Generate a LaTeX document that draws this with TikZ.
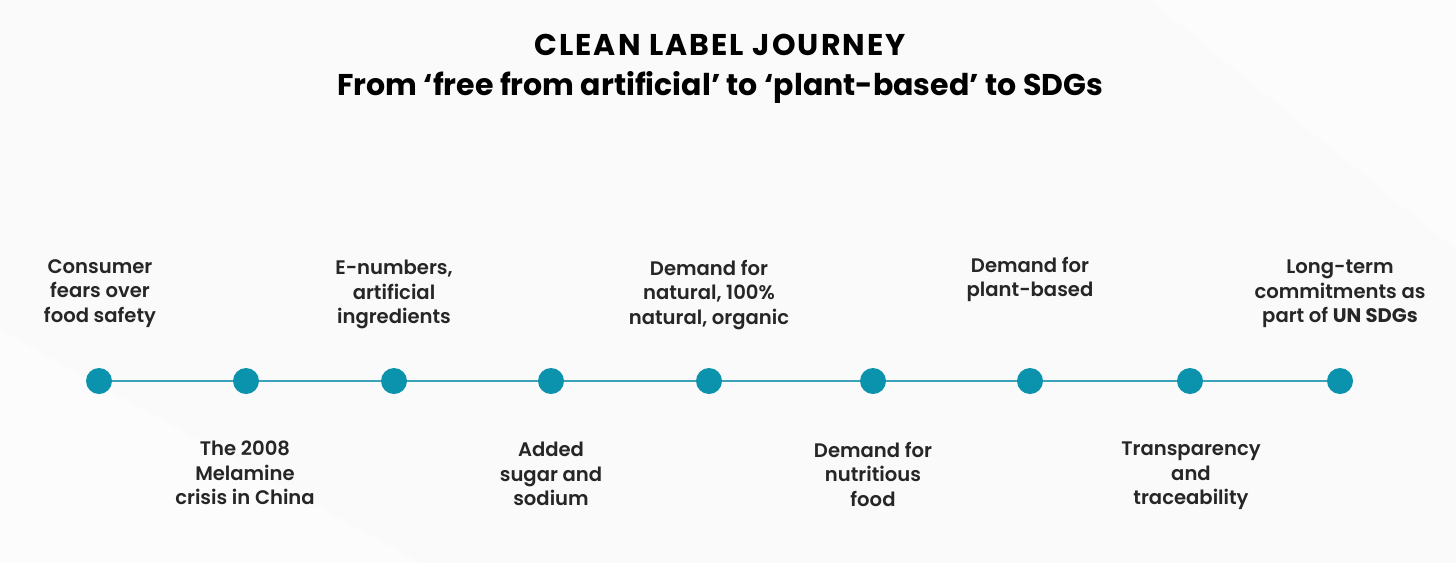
\documentclass[tikz,border=0pt]{standalone}
\usepackage{fontspec}
\setmainfont{Poppins}[UprightFont=* SemiBold, BoldFont=* Bold]
\definecolor{teal}{HTML}{0B93AD}
\definecolor{tline}{HTML}{3AA3B8}
\begin{document}
\begin{tikzpicture}[x=1pt,y=-1pt,
    dot/.style={circle,fill=teal,minimum size=26pt,inner sep=0pt},
    stage/.style={align=center,font=\fontsize{19.6}{24.5}\selectfont,text=black!85,inner sep=0pt}]
        \fill[gray!4] (0,0) rectangle (1456,563);
        \fill[white,opacity=.5] (0,563) -- (0,330) -- (420,563) -- cycle;
        \fill[white,opacity=.5] (1456,0) -- (1150,0) -- (1456,250) -- cycle;
        \useasboundingbox (0,0) rectangle (1456,563);
        \node[align=center,font=\fontsize{30}{40}\selectfont\bfseries] (title) at (720,69)
            {{\addfontfeature{LetterSpace=7}CLEAN LABEL JOURNEY}\\From ‘free from artificial’ to ‘plant-based’ to SDGs};
        \foreach \i/\x in {1/99,2/246,3/394,4/551,5/709,6/873,7/1030,8/1190,9/1340}
            \node[dot] (d\i) at (\x,381) {};
        \foreach \i/\j in {1/2,2/3,3/4,4/5,5/6,6/7,7/8,8/9}
            \draw[tline,line width=2pt] (d\i) -- (d\j);
        \node[stage,anchor=north] (s1) at (100,259) {Consumer\\fears over\\food safety};
        \node[stage,anchor=north] (s3) at (394,260) {E-numbers,\\artificial\\ingredients};
        \node[stage,anchor=north] (s5) at (709,260) {Demand for\\natural, 100\%\\natural, organic};
        \node[stage,anchor=north] (s7) at (1030,257) {Demand for\\plant-based};
        \node[stage,anchor=north] (s9) at (1340,260) {Long-term\\commitments as\\part of \textbf{UN SDGs}};
        \node[stage,anchor=north] (s2) at (245,441) {The 2008\\Melamine\\crisis in China};
        \node[stage,anchor=north] (s4) at (551,442) {Added\\sugar and\\sodium};
        \node[stage,anchor=north] (s6) at (873,442) {Demand for\\nutritious\\food};
        \node[stage,anchor=north] (s8) at (1191,442) {Transparency\\and\\traceability};
\end{tikzpicture}
\end{document}
